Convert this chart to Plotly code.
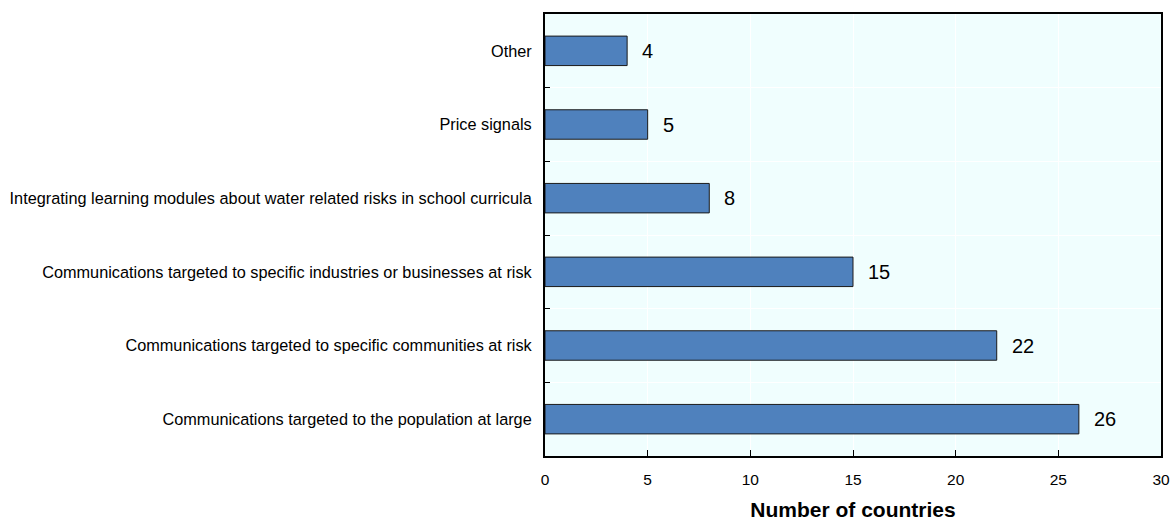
import plotly.graph_objects as go

categories = [
    "Communications targeted to the population at large",
    "Communications targeted to specific communities at risk",
    "Communications targeted to specific industries or businesses at risk",
    "Integrating learning modules about water related risks in school curricula",
    "Price signals",
    "Other",
]
values = [26, 22, 15, 8, 5, 4]
x_ticks = [0, 5, 10, 15, 20, 25, 30]

fig = go.Figure()
fig.add_trace(go.Bar(
    x=values, y=categories, orientation="h",
    marker=dict(color="#4F81BD", line=dict(color="#1a1a1a", width=1)),
    width=0.4,
))
for c, v in zip(categories, values):
    fig.add_annotation(x=v, y=c, text=str(v), showarrow=False,
                       xanchor="left", xshift=13,
                       font=dict(family="Liberation Sans, Arial", size=20, color="#000"))

fig.update_layout(
    width=1171, height=521,
    margin=dict(l=545, r=10, t=14, b=65, autoexpand=False),
    paper_bgcolor="white", plot_bgcolor="#F0FEFE",
    showlegend=False,
    font=dict(family="Liberation Sans, Arial", color="#000"),
)
fig.update_xaxes(
    range=[0, 30], tickvals=x_ticks, ticks="inside", ticklen=6, tickcolor="#000",
    showline=True, linecolor="#000", linewidth=2, mirror=True,
    showgrid=True, gridcolor="white", gridwidth=1, zeroline=False,
    tickfont=dict(size=15.5), automargin=False, ticklabelstandoff=8,
    title=dict(text="<b>Number of countries</b>", font=dict(size=21), standoff=17),
)
fig.update_yaxes(
    categoryorder="array", categoryarray=categories,
    tickson="boundaries", ticks="inside", ticklen=5, tickcolor="#000",
    showline=True, linecolor="#000", linewidth=2, mirror=True,
    showgrid=True, gridcolor="white", gridwidth=1,
    tickfont=dict(size=16.3), ticklabelstandoff=8, automargin=False,
)
fig.write_html(
    "out.html",
    config={"displayModeBar": False},
    post_script="document.body.style.margin='0';document.body.style.overflow='hidden';",
)
